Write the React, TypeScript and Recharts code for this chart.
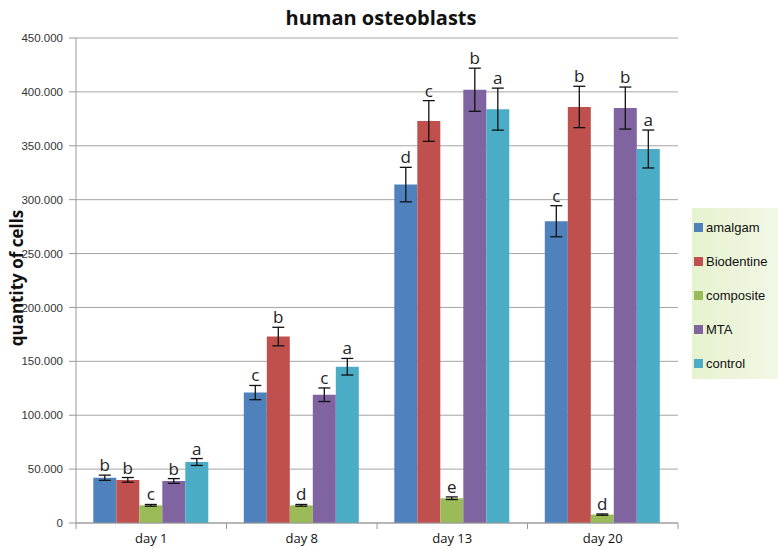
import React from "react";
import {
  BarChart,
  Bar,
  XAxis,
  YAxis,
  CartesianGrid,
  ErrorBar,
  LabelList,
} from "recharts";

// values in thousands of cells
const days = ["day 1", "day 8", "day 13", "day 20"];

const amalgam = [42, 121, 314, 280];
const biodentine = [40, 173, 373, 386];
const composite = [16.4, 16.4, 23, 7.8];
const mta = [39, 119, 402, 385];
const control = [56.6, 145, 384, 347];

const amalgamErr = [2.4, 6.6, 16, 14.4];
const biodentineErr = [2.2, 8.6, 18.9, 19.2];
const compositeErr = [0.8, 0.8, 1.2, 0.6];
const mtaErr = [2.2, 6.3, 20, 19.5];
const controlErr = [3.2, 7.7, 19.5, 17.6];

const amalgamSig = ["b", "c", "d", "c"];
const biodentineSig = ["b", "b", "c", "b"];
const compositeSig = ["c", "d", "e", "d"];
const mtaSig = ["b", "c", "b", "b"];
const controlSig = ["a", "a", "a", "a"];

const yTicks = [0, 50, 100, 150, 200, 250, 300, 350, 400, 450];

const series = [
  { key: "amalgam", name: "amalgam", color: "#4F81BD", values: amalgam, err: amalgamErr, sig: amalgamSig },
  { key: "biodentine", name: "Biodentine", color: "#C0504D", values: biodentine, err: biodentineErr, sig: biodentineSig },
  { key: "composite", name: "composite", color: "#9BBB59", values: composite, err: compositeErr, sig: compositeSig },
  { key: "mta", name: "MTA", color: "#8064A2", values: mta, err: mtaErr, sig: mtaSig },
  { key: "control", name: "control", color: "#4BACC6", values: control, err: controlErr, sig: controlSig },
];

const data = days.map((day, i) => {
  const row: Record<string, any> = { day };
  series.forEach((s) => {
    row[s.key] = s.values[i];
    row[s.key + "Err"] = s.err[i];
  });
  return row;
});

const fmtY = (v: number) => (v === 0 ? "0" : `${v}.000`);

// letter sits just above the top of the error bar
const makeSigLabel = (err: number[], sig: string[]) => (props: any) => {
  const { x, y, width, height, value, index } = props;
  const pxPerUnit = value ? height / value : 0;
  const top = y - err[index] * pxPerUnit;
  return (
    <text
      x={x + width / 2}
      y={top - 4}
      textAnchor="middle"
      fontSize={17}
      fontFamily="Open Sans, sans-serif"
      fill="#222"
    >
      {sig[index]}
    </text>
  );
};

const DayTick = (props: any) => {
  const { x, y, payload, index } = props;
  const half = payload.offset || 75.25;
  return (
    <g>
      <line x1={x - half} y1={y - 8} x2={x - half} y2={y - 2} stroke="#999" />
      {index === days.length - 1 && (
        <line x1={x + half} y1={y - 8} x2={x + half} y2={y - 2} stroke="#999" />
      )}
      <text
        x={x}
        y={y + 12}
        textAnchor="middle"
        fontSize={13}
        fontFamily="Open Sans, sans-serif"
        fill="#111"
      >
        {payload.value}
      </text>
    </g>
  );
};

const LegendBox = () => (
  <div
    style={{
      position: "absolute",
      left: 692,
      top: 208,
      width: 86,
      height: 171,
      boxSizing: "border-box",
      background: "linear-gradient(to right, #e6f2cf, #f2f8e6)",
      paddingTop: 2,
      paddingLeft: 2,
    }}
  >
    {series.map((s) => (
      <div
        key={s.key}
        style={{
          display: "flex",
          alignItems: "center",
          height: 34,
          fontFamily: "Liberation Sans, Arial, sans-serif",
          fontSize: 13,
          color: "#111",
        }}
      >
        <span style={{ width: 9, height: 9, background: s.color, marginRight: 3, display: "inline-block" }} />
        {s.name}
      </div>
    ))}
  </div>
);

export default function App() {
  return (
    <div style={{ position: "absolute", left: 0, top: 0, width: 778, height: 549, background: "#fff" }}>
      <BarChart
        width={778}
        height={549}
        data={data}
        margin={{ top: 38, right: 100, bottom: 0, left: 0 }}
        barCategoryGap="11.5%"
        barGap={0}
      >
        <text
          x={381}
          y={25}
          textAnchor="middle"
          fontSize={20}
          fontWeight="bold"
          fontFamily="Open Sans, sans-serif"
          fill="#111"
        >
          human osteoblasts
        </text>
        <text
          x={23}
          y={278}
          transform="rotate(-90 23 278)"
          textAnchor="middle"
          fontSize={17}
          fontWeight="bold"
          fontFamily="Open Sans, sans-serif"
          fill="#111"
        >
          quantity of cells
        </text>
        <CartesianGrid vertical={false} stroke="#a6a6a6" />
        <XAxis
          dataKey="day"
          height={26}
          stroke="#999"
          tickLine={false}
          tick={<DayTick />}
          interval={0}
        />
        <YAxis
          width={76}
          domain={[0, 450]}
          ticks={yTicks}
          tickFormatter={fmtY}
          stroke="#999"
          tickSize={7}
          tickMargin={6}
          tick={{ fontSize: 11.5, fontFamily: "Liberation Sans, Arial, sans-serif", fill: "#333" }}
          interval={0}
        />
        {series.map((s) => (
          <Bar key={s.key} dataKey={s.key} name={s.name} fill={s.color} isAnimationActive={false}>
            <ErrorBar dataKey={s.key + "Err"} width={6} stroke="#111" strokeWidth={1.3} />
            <LabelList dataKey={s.key} content={makeSigLabel(s.err, s.sig)} />
          </Bar>
        ))}
      </BarChart>
      <LegendBox />
    </div>
  );
}
